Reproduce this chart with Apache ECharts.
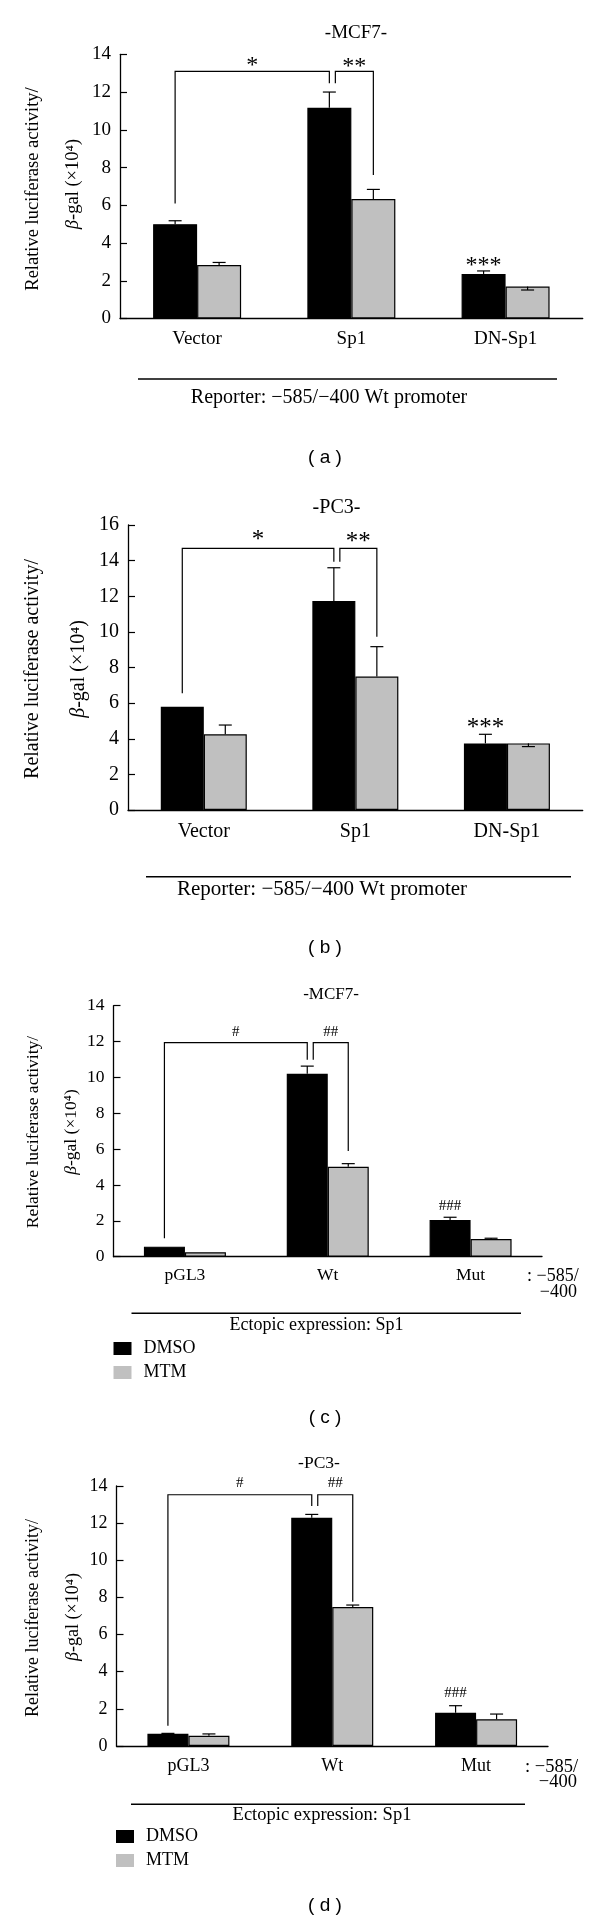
<!DOCTYPE html>
<html><head><meta charset="utf-8">
<script src="https://cdn.jsdelivr.net/npm/echarts@6/dist/echarts.min.js"></script>
<style>html,body{margin:0;padding:0;background:#fff}#c{width:600px;height:1921px}</style>
</head><body><div id="c"></div>
<script>
// ---------------- DATA ----------------
// (a) MCF7, reporter
const catsA = ['Vector', 'Sp1', 'DN-Sp1'];
const dmsoA = [5.0, 11.17, 2.36];
const mtmA = [2.83, 6.33, 1.69];
const dmsoErrA = [0.18, 0.83, 0.16];
const mtmErrA = [0.14, 0.51, -0.18];
const yTicksA = [0, 2, 4, 6, 8, 10, 12, 14];
const bracketsA = [[0, 0, 6.1, 1, 0, 12.46, 13.1], [1, 0, 12.46, 1, 1, 7.6, 13.1]];
const bracketTextA = ['*', '**'];
const bracketTextYA = [13.6, 13.5];
const marksA = [[2, 0, 3.0, '***']];

// (b) PC3, reporter
const catsB = ['Vector', 'Sp1', 'DN-Sp1'];
const dmsoB = [5.8, 11.73, 3.74];
const mtmB = [4.25, 7.49, 3.74];
const dmsoErrB = [0, 1.87, 0.51];
const mtmErrB = [0.52, 1.68, -0.18];
const yTicksB = [0, 2, 4, 6, 8, 10, 12, 14, 16];
const bracketsB = [[0, 0, 6.55, 1, 0, 13.94, 14.69], [1, 0, 13.94, 1, 1, 9.73, 14.69]];
const bracketTextB = ['*', '**'];
const bracketTextYB = [15.35, 15.2];
const marksB = [[2, 0, 4.77, '***']];

// (c) MCF7, ectopic Sp1
const catsC = ['pGL3', 'Wt', 'Mut'];
const dmsoC = [0.56, 10.2, 2.05];
const mtmC = [0.25, 5.02, 0.99];
const dmsoErrC = [0, 0.43, 0.15];
const mtmErrC = [0, 0.17, 0.04];
const yTicksC = [0, 2, 4, 6, 8, 10, 12, 14];
const bracketsC = [[0, 0, 1.03, 1, 0, 10.98, 11.94], [1, 0, 10.98, 1, 1, 5.89, 11.94]];
const bracketTextC = ['#', '##'];
const bracketTextYC = [12.55, 12.55];
const marksC = [[2, 0, 2.83, '###']];

// (d) PC3, ectopic Sp1
const catsD = ['pGL3', 'Wt', 'Mut'];
const dmsoD = [0.66, 12.29, 1.79];
const mtmD = [0.55, 7.48, 1.44];
const dmsoErrD = [0.02, 0.18, 0.38];
const mtmErrD = [0.1, 0.11, 0.28];
const yTicksD = [0, 2, 4, 6, 8, 10, 12, 14];
const bracketsD = [[0, 0, 1.09, 1, 0, 12.92, 13.53], [1, 0, 12.92, 1, 1, 7.77, 13.53]];
const bracketTextD = ['#', '##'];
const bracketTextYD = [14.18, 14.18];
const marksD = [[2, 0, 2.84, '###']];

const seriesNames = ['DMSO', 'MTM'];
const titles = ['-MCF7-', '-PC3-', '-MCF7-', '-PC3-'];
const notes = ['Reporter: \u2212585/\u2212400 Wt promoter', 'Reporter: \u2212585/\u2212400 Wt promoter',
  'Ectopic expression: Sp1', 'Ectopic expression: Sp1'];
const captions = ['( a )', '( b )', '( c )', '( d )'];
const yName1 = 'Relative luciferase activity/';
const yName2 = '{i|\u03b2}-gal (\u00d710\u2074)';
const rangeText = [': \u2212585/', '\u2212400'];

// ---------------- LAYOUT / STYLE ----------------
const SERIF = "'Liberation Serif','Times New Roman',serif";
const SANS = "'Liberation Sans',Arial,sans-serif";
const GRAY = '#c0c0c0';

const panels = [
  {cats: catsA, dmso: dmsoA, mtm: mtmA, dErr: dmsoErrA, mErr: mtmErrA, ticks: yTicksA,
   brackets: bracketsA, bText: bracketTextA, bTextY: bracketTextYA, marks: marksA, starSize: 24,
   grid: {left: 120, top: 54.3, width: 462.7, height: 264.2}, barW: 44, fs: 19, lfs: 20, ylfs: 18.5, margin: 11,
   title: [356, 33], ylab: [[33, 189], [73, 184]], sep: [138, 557, 379], note: [329, 398], cap: [325, 458]},
  {cats: catsB, dmso: dmsoB, mtm: mtmB, dErr: dmsoErrB, mErr: mtmErrB, ticks: yTicksB,
   brackets: bracketsB, bText: bracketTextB, bTextY: bracketTextYB, marks: marksB, starSize: 25,
   grid: {left: 128, top: 525, width: 454.7, height: 285}, barW: 43, fs: 20, lfs: 21, ylfs: 20, margin: 12,
   title: [336.5, 507.3], ylab: [[33, 669], [79, 669]], sep: [146, 571, 876.7], note: [322, 889], cap: [325, 948]},
  {cats: catsC, dmso: dmsoC, mtm: mtmC, dErr: dmsoErrC, mErr: mtmErrC, ticks: yTicksC,
   brackets: bracketsC, bText: bracketTextC, bTextY: bracketTextYC, marks: marksC, starSize: 15,
   grid: {left: 113.5, top: 1005.7, width: 428.5, height: 251}, barW: 41, fs: 17.5, lfs: 18, ylfs: 17.5, margin: 10,
   title: [331, 995], ylab: [[33, 1132], [71, 1132]], sep: [131.5, 521, 1313.3], note: [316.5, 1325], cap: [325, 1418],
   legend: [113.5, 1339], range: [[527, 1276.7], [577, 1292.7]]},
  {cats: catsD, dmso: dmsoD, mtm: mtmD, dErr: dmsoErrD, mErr: mtmErrD, ticks: yTicksD,
   brackets: bracketsD, bText: bracketTextD, bTextY: bracketTextYD, marks: marksD, starSize: 15,
   grid: {left: 116.5, top: 1486, width: 431.5, height: 260}, barW: 41, fs: 18, lfs: 18.5, ylfs: 18, margin: 11,
   title: [319, 1463.3], ylab: [[33, 1618], [73, 1617]], sep: [131, 525, 1804.3], note: [322, 1815], cap: [325, 1906],
   legend: [116, 1827], range: [[525, 1766.7], [577, 1781.7]]}
];

function errRender(barW, side, cap) {
  return function (params, api) {
    const err = api.value(2);
    if (!err) return null;
    const cat = api.value(0), v = api.value(1);
    const x = api.coord([cat, v])[0] + (side - 0.5) * barW;
    const y1 = api.coord([cat, v])[1];
    const y2 = api.coord([cat, v + err])[1];
    return {type: 'group', children: [
      {type: 'line', shape: {x1: x, y1: y1, x2: x, y2: y2}, style: {stroke: '#000', lineWidth: 1.2}},
      {type: 'line', shape: {x1: x - cap, y1: y2, x2: x + cap, y2: y2}, style: {stroke: '#000', lineWidth: 1.2}}
    ]};
  };
}

function symText(t, x, y, size) {
  const isStar = t.indexOf('*') >= 0;
  return {type: 'text', x: x, y: y + (isStar ? size * 0.14 : 0),
    style: {text: t, fill: '#000', font: size + 'px ' + SERIF, fontSize: size, fontFamily: SERIF,
      align: 'center', verticalAlign: 'middle', textAlign: 'center', textVerticalAlign: 'middle'}};
}

function bracketRender(p) {
  return function (params, api) {
    const b = p.brackets[params.dataIndex];
    const xOf = (cat, side) => api.coord([cat, 0])[0] + (side - 0.5) * p.barW;
    const yOf = v => api.coord([0, v])[1];
    const xa = xOf(b[0], b[1]) + (params.dataIndex === 1 ? 6 : 0);
    const xb = xOf(b[3], b[4]);
    const ya = yOf(b[2]), yb = yOf(b[5]), yt = yOf(b[6]);
    return {type: 'group', children: [
      {type: 'polyline', shape: {points: [[xa, ya], [xa, yt], [xb, yt], [xb, yb]]},
       style: {stroke: '#000', fill: 'none', lineWidth: 1.2}},
      symText(p.bText[params.dataIndex], (xa + xb) / 2, yOf(p.bTextY[params.dataIndex]), p.starSize)
    ]};
  };
}

function markRender(p) {
  return function (params, api) {
    const m = p.marks[params.dataIndex];
    const x = api.coord([m[0], 0])[0] + (m[1] - 0.5) * p.barW;
    const y = api.coord([0, m[2]])[1];
    return symText(m[3], x, y, p.starSize);
  };
}

const grid = [], xAxis = [], yAxis = [], series = [], graphic = [], legend = [];

function gtext(x, y, text, size, family, extra) {
  return Object.assign({type: 'text', x: x, y: y,
    style: Object.assign({text: text, fill: '#000', font: size + 'px ' + family, fontSize: size, fontFamily: family,
      align: 'center', verticalAlign: 'middle', textAlign: 'center', textVerticalAlign: 'middle'}, (extra && extra.style) || {})},
    extra && extra.el || {});
}

panels.forEach((p, i) => {
  grid.push(p.grid);
  xAxis.push({type: 'category', gridIndex: i, data: p.cats,
    axisLine: {lineStyle: {color: '#000', width: 1.3}},
    axisTick: {inside: true, length: 7, lineStyle: {color: '#000', width: 1.2}},
    axisLabel: {color: '#000', fontFamily: SERIF, fontSize: p.fs, margin: p.margin, interval: 0},
    splitLine: {show: false}});
  const t = p.ticks;
  yAxis.push({type: 'value', gridIndex: i, min: t[0], max: t[t.length - 1], interval: t[1] - t[0],
    axisLine: {show: true, lineStyle: {color: '#000', width: 1.3}},
    axisTick: {show: true, inside: true, length: 7, lineStyle: {color: '#000', width: 1.2}},
    axisLabel: {color: '#000', fontFamily: SERIF, fontSize: p.fs, margin: 9},
    splitLine: {show: false}});
  [p.dmso, p.mtm].forEach((vals, s) => {
    series.push({type: 'bar', name: seriesNames[s], xAxisIndex: i, yAxisIndex: i, data: vals,
      barWidth: p.barW, barGap: '0%', animation: false,
      itemStyle: {color: s === 0 ? '#000' : GRAY, borderColor: '#000', borderWidth: 1.2}});
  });
  [p.dErr, p.mErr].forEach((errs, s) => {
    const vals = s === 0 ? p.dmso : p.mtm;
    series.push({type: 'custom', xAxisIndex: i, yAxisIndex: i, z: 5, animation: false,
      renderItem: errRender(p.barW, s, 6.5),
      encode: {x: 0, y: 1},
      data: p.cats.map((c, k) => [k, vals[k], errs[k]])});
  });
  series.push({type: 'custom', xAxisIndex: i, yAxisIndex: i, z: 6, animation: false, clip: false,
    renderItem: bracketRender(p), encode: {x: 0, y: 1},
    data: p.brackets.map(b => [b[0], b[6]])});
  series.push({type: 'custom', xAxisIndex: i, yAxisIndex: i, z: 6, animation: false, clip: false,
    renderItem: markRender(p), encode: {x: 0, y: 1},
    data: p.marks.map(m => [m[0], m[2]])});

  // texts
  graphic.push(gtext(p.title[0], p.title[1], titles[i], p.lfs - 1, SERIF));
  graphic.push(gtext(p.ylab[0][0], p.ylab[0][1], yName1, p.ylfs, SERIF, {el: {rotation: Math.PI / 2}}));
  graphic.push(gtext(p.ylab[1][0], p.ylab[1][1], yName2, p.ylfs, SERIF, {el: {rotation: Math.PI / 2},
    style: {rich: {i: {fontStyle: 'italic', fontFamily: SERIF, fontSize: p.ylfs}}}}));
  graphic.push({type: 'line', shape: {x1: p.sep[0], y1: p.sep[2], x2: p.sep[1], y2: p.sep[2]},
    style: {stroke: '#000', lineWidth: 1.5}});
  graphic.push(gtext(p.note[0], p.note[1], notes[i], p.lfs, SERIF));
  graphic.push(gtext(p.cap[0], p.cap[1], captions[i], 19, SANS));
  if (p.range) {
    graphic.push(gtext(p.range[0][0], p.range[0][1], rangeText[0], p.lfs, SERIF, {style: {align: 'left', textAlign: 'left'}}));
    graphic.push(gtext(p.range[1][0], p.range[1][1], rangeText[1], p.lfs, SERIF, {style: {align: 'right', textAlign: 'right'}}));
  }
  if (p.legend) {
    legend.push({left: p.legend[0], top: p.legend[1], orient: 'vertical', icon: 'rect',
      itemWidth: 18, itemHeight: 13, itemGap: 5, selectedMode: false, padding: 0,
      itemStyle: {borderWidth: 0},
      textStyle: {fontFamily: SERIF, fontSize: 18, lineHeight: 19, color: '#000', padding: [0, 0, 0, 7]},
      data: seriesNames});
  }
});

const chart = echarts.init(document.getElementById('c'), null, {renderer: 'canvas'});
chart.setOption({animation: false, backgroundColor: '#fff', grid, xAxis, yAxis, series, graphic, legend});
</script>
</body></html>
